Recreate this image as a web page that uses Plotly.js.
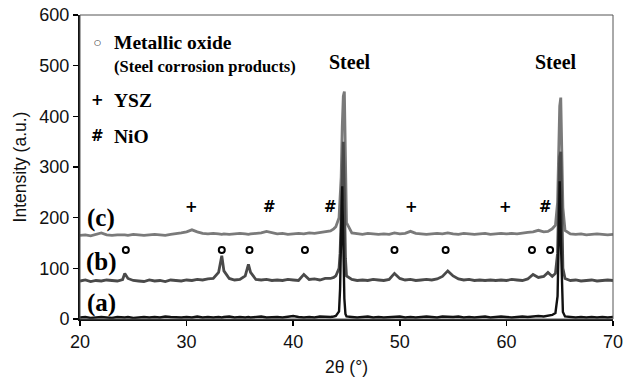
<!DOCTYPE html>
<html><head><meta charset="utf-8">
<script src="https://cdn.plot.ly/plotly-3.0.1.min.js"></script>
<style>html,body{margin:0;padding:0;background:#fff}#chart{width:624px;height:377px}</style>
</head><body><div id="chart"></div>
<script>
var twoTheta = [
 20,20.5,21,21.5,22,22.5,23,23.5,24,24.2,
 24.5,25,25.5,26,26.5,27,27.5,28,28.5,29,
 29.5,30,30.5,31,31.5,32,32.5,33,33.3,33.5,
 34,34.5,35,35.5,35.8,36,36.5,37,37.5,38,
 38.5,39,39.5,40,40.5,41,41.5,42,42.5,43,
 43.5,43.8,44,44.3,44.4,44.5,44.6,44.7,44.8,44.9,
 45,45.5,46,46.5,47,47.5,48,48.5,49,49.5,
 50,50.5,51,51.5,52,52.5,53,53.5,54,54.5,
 55,55.5,56,56.5,57,57.5,58,58.5,59,59.5,
 60,60.5,61,61.5,62,62.5,63,63.5,63.9,64.3,
 64.6,64.8,64.9,65,65.1,65.2,65.3,65.5,66,66.5,
 67,67.5,68,68.5,69,69.5,70];
var intensityA = [
 3,4,2,3,4,3,2,4,3,3,
 4,2,3,4,3,4,3,5,4,3,
 3,4,3,5,3,4,3,4,3,4,
 5,3,4,3,4,3,4,5,3,4,
 4,3,5,6,4,3,4,3,5,4,
 4,5,6,15,60,170,262,150,40,10,
 5,4,3,4,5,3,4,3,4,4,
 5,3,4,3,4,5,4,3,5,4,
 4,5,3,4,3,4,5,3,4,5,
 4,3,4,5,4,5,6,5,6,8,
 12,45,150,272,160,50,14,5,4,3,
 4,3,4,3,4,3,4];
var intensityB = [
 75,77,74,76,75,77,76,75,78,90,
 80,76,75,74,77,75,76,74,77,76,
 75,77,76,78,77,79,80,92,125,95,
 80,77,78,85,108,92,78,77,78,76,
 77,76,78,77,76,88,78,79,77,80,
 80,82,85,100,130,200,300,350,250,120,
 85,78,76,77,76,78,77,76,78,90,
 80,77,78,76,77,78,77,79,84,95,
 85,79,77,78,76,77,76,77,76,77,
 76,78,77,76,79,88,82,84,92,84,
 90,130,230,320,330,200,100,80,76,77,
 75,76,77,75,76,77,76];
var intensityC = [
 165,166,164,167,170,166,165,166,167,166,
 165,167,166,165,166,167,166,165,167,168,
 170,172,176,172,169,168,169,168,167,168,
 167,168,169,168,167,168,169,170,173,170,
 168,169,167,168,169,168,170,169,171,172,
 174,178,182,200,230,280,380,440,449,300,
 190,170,168,167,169,168,167,168,167,170,
 168,169,173,169,168,167,168,169,168,170,
 168,167,169,168,167,168,169,167,168,169,
 168,169,168,170,171,172,175,172,173,178,
 185,230,330,420,437,330,220,175,168,167,
 168,166,167,168,167,166,167];
var oxideTheta = [24.3,33.3,35.9,41.1,49.5,54.3,62.4,64.1];
var oxideLevel = [136,136,136,136,136,136,136,136];
var yszTheta = [30.5,51.1,59.9];
var nioTheta = [37.8,43.5,63.7];
var markLevel = 221;
var sampleLabels = ['(a)','(b)','(c)'];
var sampleLabelY = [32,112,199];

var traces = [
 {x:twoTheta,y:intensityC,mode:'lines',line:{color:'#7a7a7a',width:2.8},hoverinfo:'skip'},
 {x:twoTheta,y:intensityB,mode:'lines',line:{color:'#4a4a4a',width:2.8},hoverinfo:'skip'},
 {x:twoTheta,y:intensityA,mode:'lines',line:{color:'#111111',width:2.4},hoverinfo:'skip'},
 {x:oxideTheta,y:oxideLevel,mode:'markers',marker:{symbol:'circle-open',size:6,color:'#000',line:{width:2,color:'#000'}},hoverinfo:'skip'}
];
var serif = 'Liberation Serif, Times New Roman, serif';
var symFont = {family:'DejaVu Sans',size:15,color:'#000'};
var ann = [];
yszTheta.forEach(function(t){ann.push({x:t,y:markLevel,text:'<b>+</b>',showarrow:false,font:symFont});});
nioTheta.forEach(function(t){ann.push({x:t,y:markLevel,text:'<b>#</b>',showarrow:false,font:symFont});});
sampleLabels.forEach(function(s,i){ann.push({x:22.0,y:sampleLabelY[i],text:'<b>'+s+'</b>',showarrow:false,font:{family:serif,size:25,color:'#000'}});});
ann.push({x:45.3,y:507,text:'<b>Steel</b>',showarrow:false,font:{family:serif,size:20,color:'#000'}});
ann.push({x:64.65,y:507,text:'<b>Steel</b>',showarrow:false,font:{family:serif,size:20,color:'#000'}});
ann.push({x:21.6,y:545,text:'○',showarrow:false,font:{family:'DejaVu Sans',size:8,color:'#000'}});
ann.push({x:23.0,y:545,xanchor:'left',text:'<b>Metallic oxide</b>',showarrow:false,font:{family:serif,size:19.5,color:'#000'}});
ann.push({x:23.0,y:499,xanchor:'left',text:'<b>(Steel corrosion products)</b>',showarrow:false,font:{family:serif,size:16.5,color:'#000'}});
ann.push({x:21.6,y:432,text:'<b>+</b>',showarrow:false,font:symFont});
ann.push({x:23.0,y:432,xanchor:'left',text:'<b>YSZ</b>',showarrow:false,font:{family:serif,size:19.5,color:'#000'}});
ann.push({x:21.6,y:361,text:'<b>#</b>',showarrow:false,font:symFont});
ann.push({x:23.0,y:361,xanchor:'left',text:'<b>NiO</b>',showarrow:false,font:{family:serif,size:19.5,color:'#000'}});

var tickFont = {family:'Liberation Sans, Arial, sans-serif',size:18,color:'#111'};
var layout = {
 width:624,height:377,
 margin:{l:80,r:11,t:15,b:58},
 paper_bgcolor:'#fff',plot_bgcolor:'#fff',
 showlegend:false,
 font:{family:'Liberation Sans, Arial, sans-serif',size:17,color:'#111'},
 xaxis:{range:[20,70],dtick:10,tick0:20,ticks:'outside',ticklen:5,tickwidth:1.5,tickcolor:'#000',tickfont:tickFont,
   showline:true,linewidth:2,linecolor:'#111',showgrid:false,zeroline:false,
   title:{text:'2θ (°)',standoff:10,font:{size:17.5}}},
 yaxis:{range:[0,600],dtick:100,tick0:0,ticks:'outside',ticklen:5,tickwidth:1.5,tickcolor:'#000',tickfont:tickFont,
   showline:true,linewidth:2,linecolor:'#111',showgrid:false,zeroline:false,
   title:{text:'Intensity (a.u.)',standoff:8,font:{size:17.5}}},
 shapes:[{type:'rect',xref:'paper',yref:'paper',x0:0,x1:1,y0:0,y1:1,line:{color:'#555',width:1}}],
 annotations:ann
};
Plotly.newPlot('chart',traces,layout,{staticPlot:true,displayModeBar:false});
</script></body></html>
